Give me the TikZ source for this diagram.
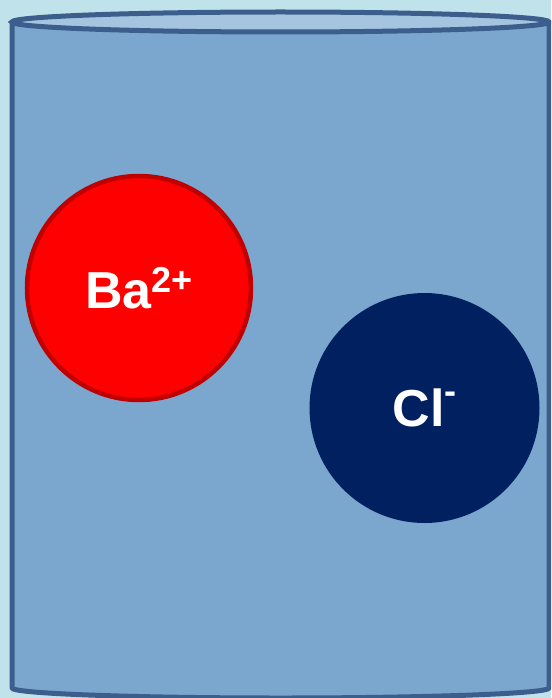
\documentclass[tikz,border=0pt]{standalone}
\usepackage{fontspec}
\setmainfont{Liberation Sans}
\definecolor{bgc}{HTML}{C0E2EA}
\definecolor{bodyc}{HTML}{7BA7CF}
\definecolor{topc}{HTML}{A5C4DF}
\definecolor{edgec}{HTML}{3B5E8C}
\definecolor{redc}{HTML}{FF0000}
\definecolor{redb}{HTML}{C00000}
\definecolor{navyc}{HTML}{002060}
\tikzset{
  ion/.style={circle, minimum size=#1, inner sep=0pt, text=white, font=\fontsize{52}{56}\selectfont\bfseries},
  rim/.style={draw=edgec, line width=5pt},
}
\begin{document}
\begin{tikzpicture}[x=1pt,y=-1pt]
\useasboundingbox (0,0) rectangle (551,698);
\clip (0,0) rectangle (551,698);
\fill[bgc] (0,0) rectangle (551,698);
% cylinder body
\path[fill=bodyc, rim, line join=round]
  (12,22) -- (12,688) arc[start angle=180, end angle=360, x radius=268.5, y radius=-10]
  -- (549,22) -- cycle;
\path[fill=topc, rim] (280.5,22) ellipse[x radius=268.5, y radius=10];
% ions
\node[ion=224pt, fill=redc, draw=redb, line width=4.5pt] (ba) at (139,288)
  {Ba\raisebox{0.6ex}{\fontsize{36}{38}\selectfont 2+}};
\node[ion=230pt, fill=navyc] (cl) at (424.5,408)
  {Cl\raisebox{0.85ex}{\fontsize{36}{38}\selectfont -}};
\end{tikzpicture}
\end{document}
